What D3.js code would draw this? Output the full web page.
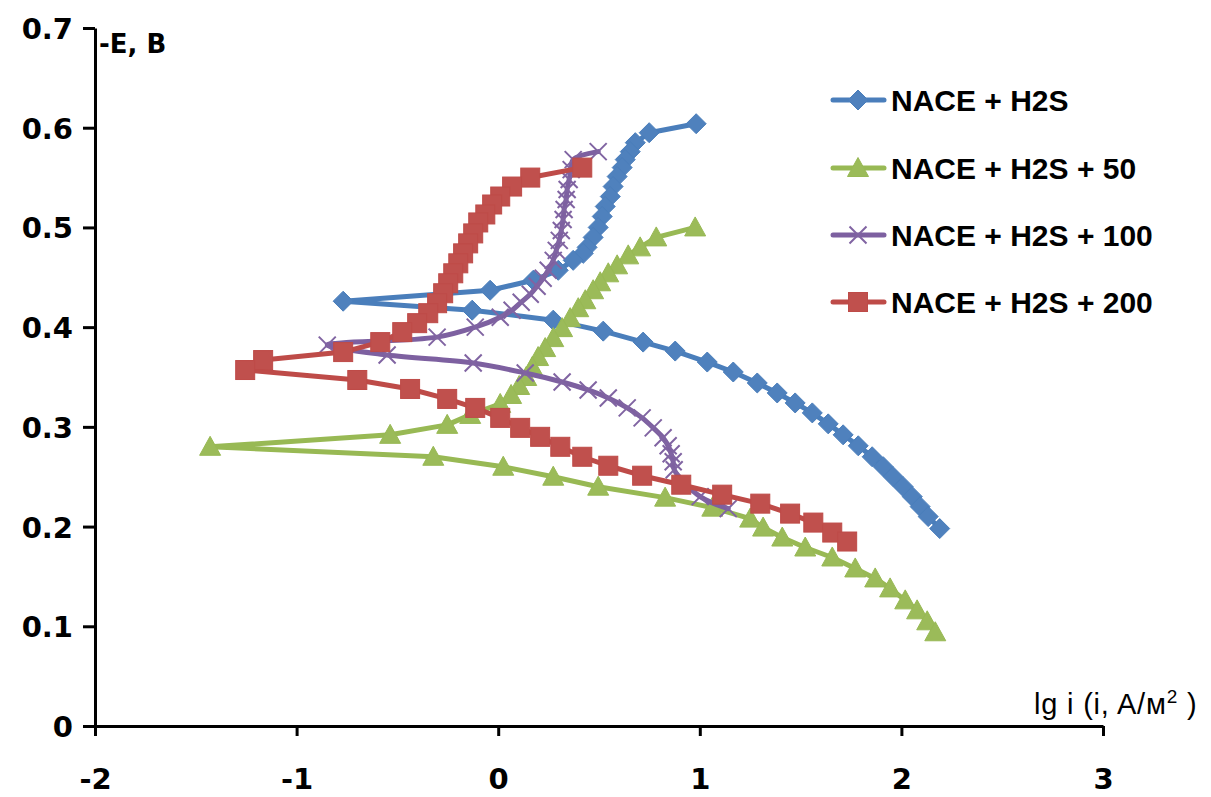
<!DOCTYPE html>
<html>
<head>
<meta charset="utf-8">
<script src="https://cdn.jsdelivr.net/npm/d3@7"></script>
<style>
  html, body { margin: 0; padding: 0; background: #fff; }
  svg { display: block; }
</style>
</head>
<body>
<svg id="chart" width="1211" height="797"></svg>
<script>
// ---------- DATA ----------
const seriesNames = ["NACE + H2S", "NACE + H2S + 50", "NACE + H2S + 100", "NACE + H2S + 200"];
const xTickValues = [-2, -1, 0, 1, 2, 3];
const yTickValues = [0, 0.1, 0.2, 0.3, 0.4, 0.5, 0.6, 0.7];
const xAxisTitle = "lg i (i, A/м";
const yAxisTitle = "-E, B";

// NACE + H2S
const s0_lgi = [0.982, 0.749, 0.680, 0.655, 0.630, 0.615, 0.590, 0.570, 0.556, 0.531, 0.516, 0.496, 0.471, 0.441, 0.422, 0.372, 0.298, 0.174, -0.040, -0.769,
                -0.129, 0.273, 0.521, 0.719, 0.878, 1.037, 1.166, 1.285, 1.384, 1.473, 1.558, 1.637, 1.711, 1.786, 1.855, 1.910, 1.959, 2.009, 2.054, 2.093, 2.133, 2.190];
const s0_E   = [0.604, 0.595, 0.585, 0.576, 0.568, 0.560, 0.551, 0.541, 0.531, 0.521, 0.511, 0.500, 0.490, 0.480, 0.474, 0.467, 0.457, 0.447, 0.437, 0.426,
                0.417, 0.407, 0.396, 0.385, 0.376, 0.365, 0.355, 0.344, 0.334, 0.324, 0.314, 0.303, 0.292, 0.281, 0.270, 0.260, 0.250, 0.240, 0.230, 0.220, 0.210, 0.198];

// NACE + H2S + 50
const s1_lgi = [0.977, 0.784, 0.704, 0.645, 0.590, 0.546, 0.506, 0.471, 0.432, 0.397, 0.357, 0.317, 0.273, 0.233, 0.198, 0.169, 0.139, 0.104, 0.064, 0.010, -0.139, -0.253, -0.536, -1.429,
                -0.322, 0.025, 0.273, 0.496, 0.828, 1.062, 1.250, 1.314, 1.409, 1.523, 1.657, 1.771, 1.870, 1.944, 2.019, 2.078, 2.128, 2.168];
const s1_E   = [0.500, 0.490, 0.480, 0.472, 0.462, 0.454, 0.445, 0.437, 0.427, 0.419, 0.409, 0.399, 0.389, 0.379, 0.370, 0.360, 0.350, 0.341, 0.332, 0.323, 0.312, 0.302, 0.292, 0.280,
                0.270, 0.260, 0.250, 0.240, 0.229, 0.219, 0.208, 0.199, 0.189, 0.179, 0.169, 0.158, 0.148, 0.138, 0.126, 0.116, 0.105, 0.094];

// NACE + H2S + 100
const s2_lgi = [0.496, 0.372, 0.362, 0.352, 0.342, 0.337, 0.327, 0.322, 0.313, 0.303, 0.288, 0.273, 0.248, 0.223, 0.193, 0.159, 0.114, 0.069, 0.010, -0.114, -0.303, -0.848,
                -0.551, -0.124, 0.134, 0.317, 0.446, 0.546, 0.640, 0.714, 0.769, 0.818, 0.843, 0.858, 0.868, 0.873, 1.002, 1.141];
const s2_E   = [0.576, 0.568, 0.558, 0.548, 0.538, 0.528, 0.518, 0.508, 0.497, 0.487, 0.477, 0.467, 0.457, 0.449, 0.441, 0.433, 0.425, 0.417, 0.410, 0.400, 0.390, 0.382,
                0.372, 0.364, 0.354, 0.345, 0.337, 0.329, 0.319, 0.309, 0.299, 0.289, 0.281, 0.273, 0.265, 0.257, 0.230, 0.218];

// NACE + H2S + 200
const s3_lgi = [0.417, 0.159, 0.069, 0.010, -0.030, -0.064, -0.099, -0.124, -0.149, -0.174, -0.198, -0.223, -0.248, -0.273, -0.303, -0.347, -0.402, -0.476, -0.585, -0.769, -1.166,
                -1.255, -0.699, -0.437, -0.253, -0.114, 0.010, 0.109, 0.208, 0.308, 0.417, 0.546, 0.714, 0.908, 1.111, 1.300, 1.448, 1.563, 1.657, 1.731];
const s3_E   = [0.560, 0.550, 0.541, 0.531, 0.523, 0.513, 0.505, 0.494, 0.484, 0.474, 0.464, 0.454, 0.444, 0.434, 0.424, 0.414, 0.404, 0.395, 0.385, 0.375, 0.367,
                0.357, 0.347, 0.338, 0.328, 0.319, 0.309, 0.299, 0.290, 0.280, 0.270, 0.261, 0.251, 0.242, 0.232, 0.223, 0.213, 0.204, 0.194, 0.185];

// ---------- STYLE ----------
const styles = [
  { line: "#4A7EBB", fill: "#4F81BD", marker: "diamond",  smooth: false },
  { line: "#98B954", fill: "#9BBB59", marker: "triangle", smooth: false },
  { line: "#7D60A0", fill: "#8064A2", marker: "cross",    smooth: true  },
  { line: "#BE4B48", fill: "#C0504D", marker: "square",   smooth: false }
];
const seriesData = [
  d3.zip(s0_lgi, s0_E), d3.zip(s1_lgi, s1_E), d3.zip(s2_lgi, s2_E), d3.zip(s3_lgi, s3_E)
];

const svg = d3.select("#chart");
const x = d3.scaleLinear().domain([-2, 3]).range([95, 1103]);
const y = d3.scaleLinear().domain([0, 0.7]).range([726, 28]);

// Axes
const xAxis = d3.axisBottom(x).tickValues(xTickValues).tickSize(10).tickSizeOuter(0).tickFormat(d => String(d));
const yAxis = d3.axisLeft(y).tickValues(yTickValues).tickSize(12).tickSizeOuter(0).tickFormat(d => d === 0 ? "0" : d3.format(".1f")(d));

const gx = svg.append("g").attr("transform", "translate(0,726)").call(xAxis);
const gy = svg.append("g").attr("transform", "translate(95,0)").call(yAxis);
[gx, gy].forEach(g => {
  g.select(".domain").attr("stroke", "#000").attr("stroke-width", 3);
  g.selectAll(".tick line").attr("stroke", "#000").attr("stroke-width", 3);
  g.selectAll(".tick text")
    .attr("fill", "#000")
    .style("font-family", "'DejaVu Sans', Verdana, sans-serif")
    .style("font-weight", "bold")
    .style("font-size", "29px");
});
gx.selectAll(".tick text").attr("y", 42);
gy.selectAll(".tick text").attr("x", -22).attr("dy", "0.36em");

// Axis titles
svg.append("text").attr("x", 99).attr("y", 53)
  .style("font-family", "'DejaVu Sans', Verdana, sans-serif").style("font-weight", "bold").style("font-size", "26px")
  .text(yAxisTitle);
const xt = svg.append("text").attr("x", 1034).attr("y", 714)
  .style("font-family", "'Liberation Sans', Arial, sans-serif").style("font-size", "29px")
  .style("letter-spacing", "0.8px");
xt.append("tspan").text(xAxisTitle);
xt.append("tspan").attr("dy", -11).style("font-size", "19px").text("2");
xt.append("tspan").attr("dy", 11).text(" )");

// Marker drawing
function drawMarker(g, type, st) {
  if (type === "diamond") {
    g.append("path").attr("d", "M0,-10L10,0L0,10L-10,0Z").attr("fill", st.fill).attr("stroke", st.line).attr("stroke-width", 1);
  } else if (type === "square") {
    g.append("rect").attr("x", -9.5).attr("y", -9.5).attr("width", 19).attr("height", 19).attr("fill", st.fill).attr("stroke", st.line).attr("stroke-width", 1);
  } else if (type === "triangle") {
    g.append("path").attr("d", "M0,-10.5L10.5,8.5L-10.5,8.5Z").attr("fill", st.fill).attr("stroke", st.line).attr("stroke-width", 1);
  } else if (type === "cross") {
    g.append("path").attr("d", "M-8.5,-8.5L8.5,8.5M-8.5,8.5L8.5,-8.5").attr("fill", "none").attr("stroke", st.fill).attr("stroke-width", 2);
  }
}

// Series
seriesData.forEach((data, i) => {
  const st = styles[i];
  const line = d3.line().x(d => x(d[0])).y(d => y(d[1]))
    .curve(st.smooth ? d3.curveCatmullRom.alpha(0.5) : d3.curveLinear);
  const g = svg.append("g");
  g.append("path").attr("d", line(data)).attr("fill", "none")
    .attr("stroke", st.line).attr("stroke-width", 5).attr("stroke-linejoin", "round").attr("stroke-linecap", "round");
  data.forEach(d => {
    const m = g.append("g").attr("transform", `translate(${x(d[0])},${y(d[1])})`);
    drawMarker(m, st.marker, st);
  });
});

// Legend
const legendRows = [100, 168, 235, 302];
seriesNames.forEach((name, i) => {
  const st = styles[i];
  const g = svg.append("g").attr("transform", `translate(0,${legendRows[i]})`);
  g.append("line").attr("x1", 833).attr("x2", 884).attr("y1", 0).attr("y2", 0)
    .attr("stroke", st.line).attr("stroke-width", 5).attr("stroke-linecap", "round");
  const m = g.append("g").attr("transform", "translate(858,0)");
  drawMarker(m, st.marker, st);
  g.append("text").attr("x", 891).attr("y", 11)
    .style("font-family", "'Liberation Sans', Arial, sans-serif").style("font-weight", "bold").style("font-size", "30px")
    .attr("fill", "#000").text(name);
});
</script>
</body>
</html>
